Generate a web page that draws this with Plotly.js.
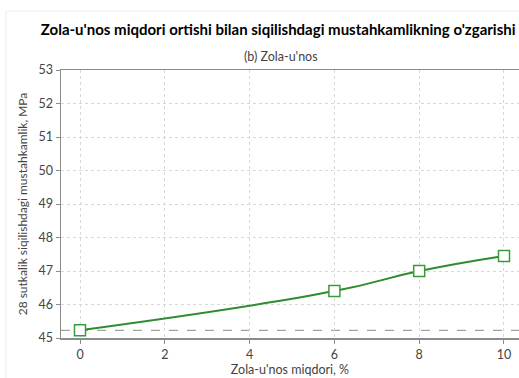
<!DOCTYPE html>
<html>
<head>
<meta charset="utf-8">
<script src="https://cdn.plot.ly/plotly-3.0.1.min.js"></script>
<style>
html,body{margin:0;padding:0;background:#fff;}
#chart{width:519px;height:378px;}
</style>
</head>
<body>
<div id="chart"></div>
<script>
var ashContent = [0, 6, 8, 10];
var strength = [45.23, 46.4, 47.0, 47.45];
var baseline = 45.23;
var xTicks = [0, 2, 4, 6, 8, 10];
var yTicks = [45, 46, 47, 48, 49, 50, 51, 52, 53];

var FONT = 'Lato, "Open Sans", sans-serif';

var trace = {
  x: ashContent,
  y: strength,
  type: 'scatter',
  mode: 'lines+markers',
  line: {color: '#2e8b2e', width: 2, shape: 'spline', smoothing: 1.3},
  marker: {symbol: 'square', size: 11, color: '#ffffff', line: {color: '#3a9a3a', width: 1.5}},
  hoverinfo: 'x+y'
};

var layout = {
  width: 519,
  height: 378,
  margin: {l: 61, r: 0, t: 70, b: 40},
  paper_bgcolor: '#ffffff',
  plot_bgcolor: '#ffffff',
  showlegend: false,
  font: {family: FONT, size: 12, color: '#444'},
  title: {
    text: "Zola-u'nos miqdori ortishi bilan siqilishdagi mustahkamlikning o'zgarishi",
    font: {family: FONT, size: 15, color: '#000', weight: 'bold'},
    x: 0.536, xanchor: 'center', y: 0.92, yanchor: 'middle'
  },
  annotations: [{
    text: "(b) Zola-u'nos",
    xref: 'paper', yref: 'paper',
    x: 0.48, y: 1.05, xanchor: 'center', yanchor: 'middle',
    showarrow: false,
    font: {family: FONT, size: 12.5, color: '#444'}
  }],
  xaxis: {
    range: [-0.448, 10.354],
    tickvals: xTicks,
    ticktext: xTicks.map(String),
    showgrid: true, gridcolor: '#d8d8d8', griddash: 'dot', gridwidth: 1,
    zeroline: false,
    showline: true, linecolor: '#8c8c8c', linewidth: 1.5, mirror: true,
    ticks: 'outside', ticklen: 4, tickcolor: '#8c8c8c',
    tickfont: {family: FONT, size: 12.5, color: '#444'},
    title: {text: "Zola-u'nos miqdori, %", font: {family: FONT, size: 12.5, color: '#444'}, standoff: 4}
  },
  yaxis: {
    range: [45, 53],
    tickvals: yTicks,
    ticktext: yTicks.map(String),
    showgrid: true, gridcolor: '#d8d8d8', griddash: 'dot', gridwidth: 1,
    zeroline: false,
    showline: true, linecolor: '#8c8c8c', linewidth: 1.5,
    ticks: 'outside', ticklen: 4, tickcolor: '#8c8c8c',
    tickfont: {family: FONT, size: 12.5, color: '#444'},
    title: {text: '28 sutkalik siqilishdagi mustahkamlik, MPa', font: {family: FONT, size: 12, color: '#444'}, standoff: 8}
  },
  shapes: [
    {type: 'line', xref: 'paper', yref: 'y', x0: 0, x1: 1, y0: baseline, y1: baseline,
     line: {color: '#8a8a8a', width: 1, dash: 'dash'}, layer: 'below'},
    {type: 'rect', xref: 'paper', yref: 'paper', x0: -0.12, x1: 1.3, y0: -0.5, y1: 1.22,
     line: {color: '#ececec', width: 1}, fillcolor: 'rgba(0,0,0,0)', layer: 'below'}
  ]
};

Plotly.newPlot('chart', [trace], layout, {displayModeBar: false, staticPlot: true});
</script>
</body>
</html>
